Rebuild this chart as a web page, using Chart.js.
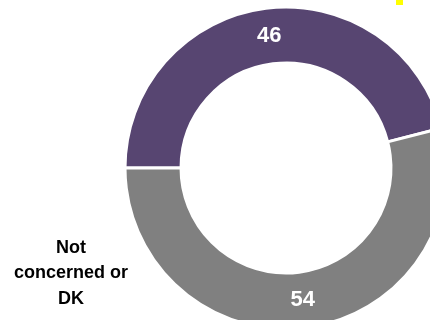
<!DOCTYPE html>
<html>
<head>
<meta charset="utf-8">
<script src="https://cdn.jsdelivr.net/npm/chart.js@4"></script>
<style>
  html, body { margin: 0; padding: 0; background: #fff; overflow: hidden; }
  #wrap { position: relative; width: 430px; height: 320px; overflow: hidden; }
  #chart { display: block; }
  .marker { position: absolute; left: 396px; top: 0; width: 7px; height: 5px; background: #ffff00; }
</style>
</head>
<body>
<div id="wrap">
  <!-- the ring runs past the right and bottom edges, so the canvas is larger than the frame -->
  <canvas id="chart" width="460" height="340"></canvas>
  <div class="marker"></div>
</div>
<script>
// Share of respondents, in percent
const categories = ['Concerned', ['Not', 'concerned or', 'DK']];
const shares = [46, 54];
const segmentColors = ['#574571', '#808080'];

// Draws each segment's value in white at its centroid, and the
// outside caption for the second segment on the left.
const valueLabels = {
  id: 'valueLabels',
  afterDatasetsDraw(chart) {
    const ctx = chart.ctx;
    const meta = chart.getDatasetMeta(0);
    ctx.save();
    ctx.textAlign = 'center';
    ctx.textBaseline = 'middle';
    ctx.fillStyle = '#ffffff';
    ctx.font = 'bold 22px "Liberation Sans", Arial, sans-serif';
    meta.data.forEach((arc, i) => {
      const p = arc.tooltipPosition();
      ctx.fillText(String(chart.data.datasets[0].data[i]), p.x, p.y);
    });

    const lines = chart.data.labels[1];
    ctx.fillStyle = '#000000';
    ctx.font = 'bold 18px "Liberation Sans", Arial, sans-serif';
    lines.forEach((line, k) => {
      ctx.fillText(line, 71, 248 + k * 25.5);
    });
    ctx.restore();
  }
};

new Chart(document.getElementById('chart'), {
  type: 'doughnut',
  data: {
    labels: categories,
    datasets: [{
      data: shares,
      backgroundColor: segmentColors,
      borderColor: '#ffffff',
      borderWidth: 3,
      hoverOffset: 0
    }]
  },
  options: {
    responsive: false,
    animation: false,
    rotation: -90,
    cutout: '65.2%',
    layout: {
      padding: { left: 123.5, top: 5.5, right: 11.5, bottom: 9.5 }
    },
    plugins: {
      legend: { display: false },
      tooltip: { enabled: false }
    }
  },
  plugins: [valueLabels]
});
</script>
</body>
</html>
